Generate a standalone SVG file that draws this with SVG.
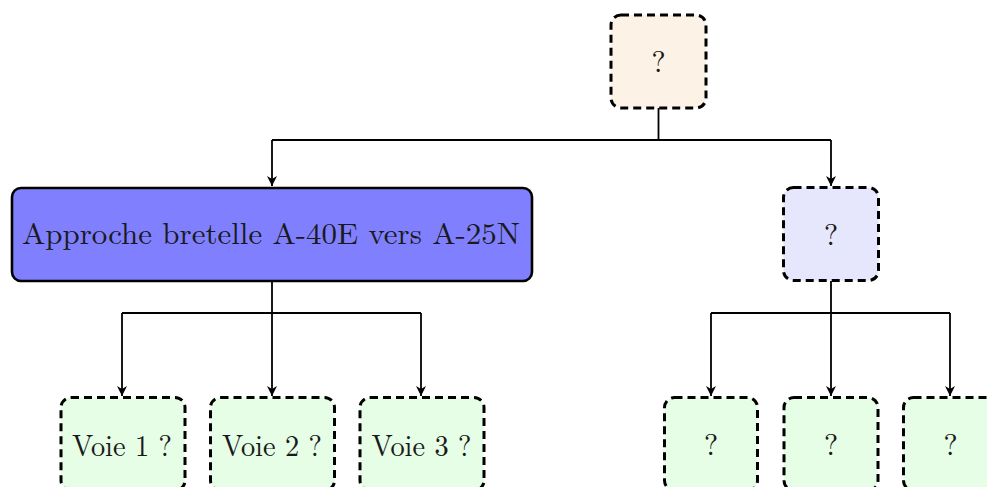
<svg xmlns="http://www.w3.org/2000/svg" width="987" height="487" viewBox="0 0 987 487">
  <style>
    .dash { stroke: #000; stroke-width: 3; stroke-dasharray: 8 5; }
    .solid { stroke: #000; stroke-width: 2.6; }
    .lbl { font-family: "Latin Modern Roman", "Liberation Serif", "DejaVu Serif", serif; font-size: 30px; fill: #1a1a1a; text-anchor: middle; }
    .edge { fill: none; stroke: #000; stroke-width: 1.8; }
  </style>
  <defs>
    <marker id="arrow" viewBox="0 0 10 10" refX="10" refY="5" markerWidth="10" markerHeight="10" markerUnits="userSpaceOnUse" orient="auto">
      <path d="M0,0 L10,5 L0,10 L3,5 Z" fill="#000"/>
    </marker>
  </defs>
  <rect width="987" height="487" fill="#fff"/>

  <g id="connectors">
    <path class="edge" d="M658.5,108 V140 M272,140 H831"/>
    <path class="edge" d="M272,140 V186" marker-end="url(#arrow)"/>
    <path class="edge" d="M831,140 V186" marker-end="url(#arrow)"/>
    <path class="edge" d="M272,281 V313 M122,313 H421"/>
    <path class="edge" d="M122,313 V396" marker-end="url(#arrow)"/>
    <path class="edge" d="M272,313 V396" marker-end="url(#arrow)"/>
    <path class="edge" d="M421,313 V396" marker-end="url(#arrow)"/>
    <path class="edge" d="M831,281 V313 M711,313 H950"/>
    <path class="edge" d="M711,313 V396" marker-end="url(#arrow)"/>
    <path class="edge" d="M831,313 V396" marker-end="url(#arrow)"/>
    <path class="edge" d="M950,313 V396" marker-end="url(#arrow)"/>
  </g>

  <g id="root">
    <rect class="dash" x="611" y="15" width="95" height="93" rx="10" fill="#fdf2e6"/>
    <text class="lbl" x="658.5" y="72">?</text>
  </g>

  <g id="approche">
    <rect class="solid" x="12" y="188" width="520" height="93" rx="9" fill="#8080ff"/>
    <text class="lbl" x="271" y="244" textLength="498" lengthAdjust="spacingAndGlyphs">Approche bretelle A-40E vers A-25N</text>
  </g>

  <g id="branch-right">
    <rect class="dash" x="783.5" y="187.5" width="95" height="93" rx="10" fill="#e6e6fd"/>
    <text class="lbl" x="831" y="245">?</text>
  </g>

  <g id="voie1">
    <rect class="dash" x="61" y="397.5" width="124" height="93" rx="10" fill="#e6fde6"/>
    <text class="lbl" x="122" y="456" textLength="100" lengthAdjust="spacingAndGlyphs">Voie 1 ?</text>
  </g>
  <g id="voie2">
    <rect class="dash" x="210.5" y="397.5" width="124" height="93" rx="10" fill="#e6fde6"/>
    <text class="lbl" x="272" y="456" textLength="100" lengthAdjust="spacingAndGlyphs">Voie 2 ?</text>
  </g>
  <g id="voie3">
    <rect class="dash" x="360" y="397.5" width="124" height="93" rx="10" fill="#e6fde6"/>
    <text class="lbl" x="421.5" y="456" textLength="100" lengthAdjust="spacingAndGlyphs">Voie 3 ?</text>
  </g>

  <g id="leaf1">
    <rect class="dash" x="664.5" y="397.5" width="93" height="93" rx="10" fill="#e6fde6"/>
    <text class="lbl" x="711" y="455">?</text>
  </g>
  <g id="leaf2">
    <rect class="dash" x="784" y="397.5" width="94" height="93" rx="10" fill="#e6fde6"/>
    <text class="lbl" x="831" y="455">?</text>
  </g>
  <g id="leaf3">
    <rect class="dash" x="903.5" y="397.5" width="94" height="93" rx="10" fill="#e6fde6"/>
    <text class="lbl" x="950.5" y="455">?</text>
  </g>
</svg>
